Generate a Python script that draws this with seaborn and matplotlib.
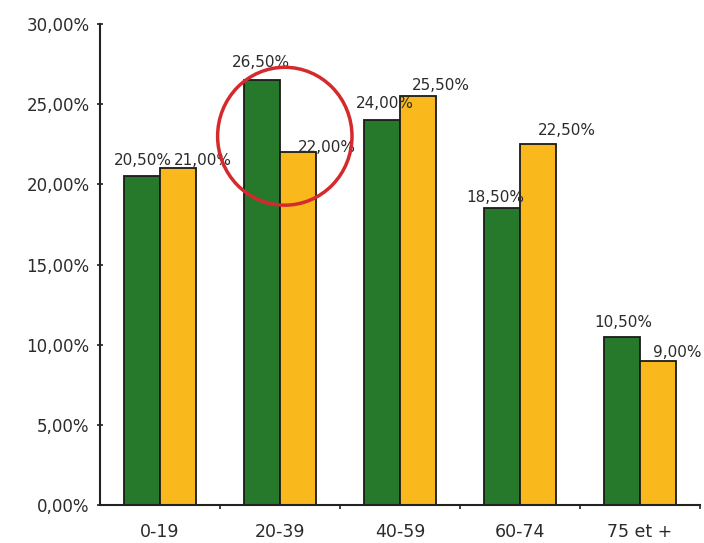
import matplotlib
matplotlib.use("Agg")
import matplotlib.pyplot as plt
from matplotlib.patches import Ellipse
from matplotlib.ticker import FuncFormatter, FixedLocator
import seaborn as sns
import pandas as pd

# Age groups and the two percentage series
age_groups = ["0-19", "20-39", "40-59", "60-74", "75 et +"]
series_names = ["Série 1", "Série 2"]
values_green = [20.5, 26.5, 24.0, 18.5, 10.5]
values_yellow = [21.0, 22.0, 25.5, 22.5, 9.0]
y_ticks = [0, 5, 10, 15, 20, 25, 30]

# Label offsets (pixels from the bar's top centre)
green_offsets = [(1, 16), (-1, 18), (3, 17), (-7, 11), (1, 14)]
yellow_offsets = [(25, 8), (29, 5), (23, 11), (29, 14), (19, 8)]

GREEN = "#26792a"
YELLOW = "#f9b81c"
TEXT = "#2b2b2b"

df = pd.DataFrame({
    "age": age_groups * 2,
    "value": values_green + values_yellow,
    "series": [series_names[0]] * len(age_groups) + [series_names[1]] * len(age_groups),
})

sns.set_theme(style="white")
plt.rcParams["font.family"] = ["DejaVu Sans"]

fig = plt.figure(figsize=(7.04, 5.43), dpi=100)
ax = fig.add_axes([100 / 704, 1 - 505 / 543, 600 / 704, 481 / 543])

sns.barplot(data=df, x="age", y="value", hue="series",
            palette=[GREEN, YELLOW], saturation=1, width=0.6, gap=0,
            edgecolor="#1a1a1a", linewidth=1.3, legend=False, ax=ax)

ax.set_xlim(-0.5, 4.5)
ax.set_ylim(0, 30)
ax.set_xlabel("")
ax.set_ylabel("")

fmt = lambda v: f"{v:.2f}".replace(".", ",") + "%"
ax.yaxis.set_major_locator(FixedLocator(y_ticks))
ax.yaxis.set_major_formatter(FuncFormatter(lambda v, p: fmt(v)))
ax.tick_params(axis="y", direction="inout", length=5, width=1.2,
               colors="#222222", labelcolor=TEXT, labelsize=12, pad=5, left=True)
ax.tick_params(axis="x", length=0, labelsize=12.5, labelcolor=TEXT, pad=13)
ax.xaxis.set_minor_locator(FixedLocator([0.5, 1.5, 2.5, 3.5, 4.5]))
ax.tick_params(axis="x", which="minor", direction="out", length=3, width=1.2,
               colors="#222222", bottom=True)

for side in ("top", "right"):
    ax.spines[side].set_visible(False)
for side in ("left", "bottom"):
    ax.spines[side].set_color("#222222")
    ax.spines[side].set_linewidth(1.5)

# Value labels
for container, vals, offs in zip(ax.containers, [values_green, values_yellow],
                                 [green_offsets, yellow_offsets]):
    for bar, v, (dx, dy) in zip(container, vals, offs):
        cx = bar.get_x() + bar.get_width() / 2
        ax.annotate(fmt(v), (cx, v), xytext=(dx, dy), textcoords="offset pixels",
                    ha="center", va="center", fontsize=11, color=TEXT,
                    annotation_clip=False)

# Highlight around the 20-39 group
ax.add_patch(Ellipse((1.04, 23.0), 1.12, 8.6, fill=False,
                     edgecolor="#d42a2c", linewidth=2.5, clip_on=False, zorder=5))

fig.savefig("out.png", dpi=100)
